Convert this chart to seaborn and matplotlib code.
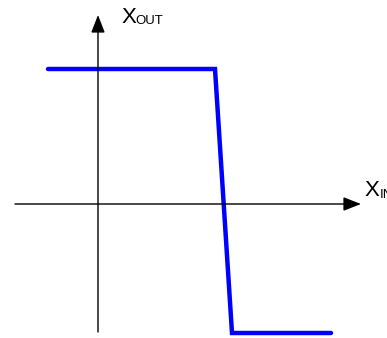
import matplotlib
matplotlib.use("Agg")
import matplotlib.pyplot as plt
import seaborn as sns
import pandas as pd

# Transfer characteristic (units: origin at axis crossing)
x_in = [-1.0, 2.34, 2.68, 4.66]
x_out = [2.7, 2.7, -2.58, -2.58]
x_label_main, x_label_sub = "X", "IN"
y_label_main, y_label_sub = "X", "OUT"

sns.set_theme(style="white")
plt.rcParams['font.family'] = ['Liberation Sans', 'DejaVu Sans']

fig = plt.figure(figsize=(3.87, 3.38), dpi=100)
ax = fig.add_axes([0, 0, 1, 1])

df = pd.DataFrame({"x": x_in, "y": x_out})
sns.lineplot(data=df, x="x", y="y", sort=False, color="#0000ff", lw=3.2, ax=ax,
             solid_joinstyle="miter")

ax.set_xlim(-1.96, 5.78)
ax.set_ylim(-2.68, 4.08)
ax.axis("off")

# axes with arrows
ax.annotate("", xy=(5.26, 0), xytext=(-1.66, 0),
            arrowprops=dict(arrowstyle="-|>,head_length=0.9,head_width=0.35",
                            color="black", lw=1.0, shrinkA=0, shrinkB=0))
ax.annotate("", xy=(0, 3.78), xytext=(0, -2.56),
            arrowprops=dict(arrowstyle="-|>,head_length=0.9,head_width=0.35",
                            color="black", lw=1.0, shrinkA=0, shrinkB=0))

ax.text(0.48, 3.62, y_label_main, fontsize=16, ha="left", va="baseline", color="black")
ax.text(0.75, 3.6, y_label_sub, fontsize=9.5, ha="left", va="baseline", color="black")
ax.text(5.34, 0.15, x_label_main, fontsize=16, ha="left", va="baseline", color="black")
ax.text(5.63, 0.13, x_label_sub, fontsize=9.5, ha="left", va="baseline", color="black")

fig.savefig("out.png", dpi=100)
